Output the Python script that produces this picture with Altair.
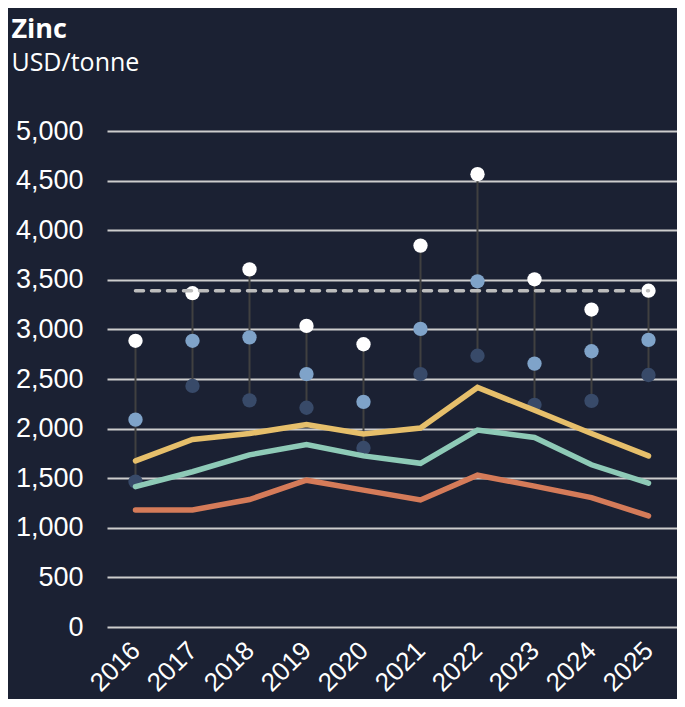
import altair as alt
import pandas as pd

years = ["2016", "2017", "2018", "2019", "2020", "2021", "2022", "2023", "2024", "2025"]
max_vals = [2885, 3365, 3605, 3035, 2850, 3845, 4565, 3505, 3200, 3390]
mid_vals = [2090, 2885, 2920, 2550, 2270, 3005, 3485, 2655, 2780, 2895]
min_vals = [1465, 2430, 2285, 2210, 1805, 2550, 2735, 2240, 2280, 2540]
yellow_vals = [1675, 1890, 1950, 2040, 1945, 2005, 2415, 2185, 1950, 1725]
teal_vals = [1415, 1565, 1735, 1840, 1725, 1650, 1985, 1910, 1635, 1450]
orange_vals = [1180, 1180, 1285, 1480, 1380, 1280, 1530, 1420, 1305, 1120]
ref_value = 3390

BG = "#1b2133"

df = pd.DataFrame({
    "year": years, "max": max_vals, "mid": mid_vals, "min": min_vals,
    "yellow": yellow_vals, "teal": teal_vals, "orange": orange_vals,
})

xenc = alt.X("year:O", scale=alt.Scale(type="point", padding=0.5),
             axis=alt.Axis(title=None, labelAngle=-45, labelAlign="right", labelBaseline="middle",
                           labelFont="Liberation Sans", labelFontSize=26, labelColor="#ffffff",
                           labelPadding=19, ticks=False, domain=False, grid=False))
yscale = alt.Scale(domain=[0, 5000], nice=False)
yaxis = alt.Axis(title=None, values=list(range(0, 5001, 500)), format=",.0f",
                 labelFont="Liberation Sans", labelFontSize=27, labelColor="#ffffff",
                 labelPadding=24, ticks=False, domain=False, grid=True,
                 gridColor="#cdcdcd", gridWidth=2)

base = alt.Chart(df)

stems = base.mark_rule(color="#404040", strokeWidth=2).encode(
    x=xenc, y=alt.Y("min:Q", scale=yscale, axis=yaxis), y2="max:Q")

def dots(field, color):
    return base.mark_circle(size=205, opacity=1, color=color).encode(
        x="year:O", y=alt.Y(f"{field}:Q", scale=yscale))

def line(field, color):
    return base.mark_line(color=color, strokeWidth=5.5, strokeCap="round", strokeJoin="miter").encode(
        x="year:O", y=alt.Y(f"{field}:Q", scale=yscale))

ref_df = pd.DataFrame({"start": [years[0]], "end": [years[-1]], "value": [ref_value]})
ref = alt.Chart(ref_df).mark_rule(color="#bdbdbd", strokeWidth=3.5, strokeDash=[8, 8], strokeCap="round").encode(
    x="start:O", x2="end:O", y=alt.Y("value:Q", scale=yscale))

chart = alt.layer(
    stems,
    dots("min", "#384a69"),
    dots("mid", "#7fa3c9"),
    dots("max", "#ffffff"),
    line("yellow", "#e6bf6b"),
    line("teal", "#8ecab7"),
    line("orange", "#d57b59"),
    ref,
).properties(
    width=570, height=496,
    autosize=alt.AutoSizeParams(type="none"),
    padding={"left": 99, "top": 123, "right": 0, "bottom": 72},
    background=BG,
    title=alt.TitleParams(
        text="Zinc", subtitle="USD/tonne", anchor="start", frame="bounds", dx=-4, offset=40,
        font="Open Sans", fontSize=27, fontWeight="bold", color="#ffffff",
        subtitleFont="Open Sans", subtitleFontSize=25, subtitleColor="#ffffff",
        subtitlePadding=7,
    ),
).configure_view(stroke=None)

chart.save("out.html", embed_options={"renderer": "svg", "actions": False})
